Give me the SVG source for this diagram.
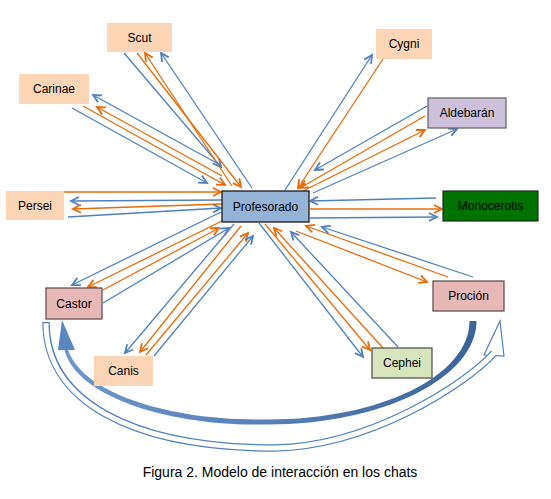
<svg xmlns="http://www.w3.org/2000/svg" width="551" height="499" viewBox="0 0 551 499">
<style>
.lbl{font-family:"Liberation Sans",Arial,sans-serif;font-size:12px;fill:#000;text-anchor:middle}
.cap{font-family:"Liberation Sans",Arial,sans-serif;font-size:14px;fill:#000;text-anchor:middle}
.peach{fill:#FBD5B5}
.b{stroke:#4F81BD;stroke-width:1.3;fill:none;marker-end:url(#hb)}
.o{stroke:#E46C0A;stroke-width:1.3;fill:none;marker-end:url(#ho)}
</style>
<defs>
<marker id="hb" markerUnits="userSpaceOnUse" markerWidth="12" markerHeight="10" viewBox="0 0 12 10" refX="9" refY="5" orient="auto"><path d="M1,1 L9,5 L1,9" fill="none" stroke="#4F81BD" stroke-width="1.8"/></marker>
<marker id="ho" markerUnits="userSpaceOnUse" markerWidth="12" markerHeight="10" viewBox="0 0 12 10" refX="9" refY="5" orient="auto"><path d="M1,1 L9,5 L1,9" fill="none" stroke="#E46C0A" stroke-width="1.8"/></marker>
<linearGradient id="thick" gradientUnits="userSpaceOnUse" x1="60" y1="0" x2="480" y2="0">
<stop offset="0" stop-color="#6f97cb"/><stop offset="0.5" stop-color="#5680b8"/><stop offset="1" stop-color="#3a6398"/>
</linearGradient>
</defs>

<g id="connectors">
<!-- Scut -->
<line class="b" x1="124" y1="53" x2="221" y2="167"/>
<line class="o" x1="137" y1="53" x2="241" y2="187"/>
<line class="o" x1="232" y1="186" x2="145" y2="53"/>
<line class="b" x1="252" y1="188" x2="161" y2="53"/>
<!-- Carinae -->
<line class="b" x1="72" y1="108" x2="207" y2="183"/>
<line class="o" x1="83" y1="106" x2="225" y2="185"/>
<line class="o" x1="222" y1="176" x2="97" y2="107"/>
<line class="b" x1="222" y1="166" x2="93" y2="95"/>
<!-- Persei -->
<line class="o" x1="64" y1="192" x2="221" y2="192"/>
<line class="b" x1="222" y1="200" x2="71" y2="201"/>
<line class="o" x1="222" y1="204" x2="73" y2="209"/>
<line class="b" x1="68" y1="217" x2="221" y2="208"/>
<!-- Cygni -->
<line class="b" x1="285" y1="190" x2="372" y2="55"/>
<line class="o" x1="383" y1="59" x2="298" y2="188"/>
<!-- Aldebaran -->
<line class="b" x1="427" y1="106" x2="315" y2="170"/>
<line class="o" x1="425" y1="116" x2="300" y2="188"/>
<line class="o" x1="303" y1="191" x2="425" y2="130"/>
<line class="b" x1="313" y1="193" x2="457" y2="129"/>
<!-- Monocerotis -->
<line class="b" x1="436" y1="198" x2="310" y2="201"/>
<line class="o" x1="310" y1="209" x2="442" y2="209"/>
<line class="b" x1="310" y1="218" x2="437" y2="217"/>
<!-- Castor -->
<line class="b" x1="221" y1="212" x2="72" y2="285"/>
<line class="o" x1="222" y1="221" x2="88" y2="287"/>
<line class="o" x1="103" y1="290" x2="219" y2="228"/>
<line class="b" x1="103" y1="303" x2="229" y2="228"/>
<!-- Canis -->
<line class="b" x1="234" y1="224" x2="125" y2="353"/>
<line class="o" x1="241" y1="226" x2="140" y2="352"/>
<line class="o" x1="146" y1="355" x2="248" y2="233"/>
<line class="b" x1="154" y1="356" x2="253" y2="236"/>
<!-- Cephei -->
<line class="b" x1="259" y1="223" x2="363" y2="357"/>
<line class="o" x1="265" y1="224" x2="370" y2="350"/>
<line class="o" x1="383" y1="348" x2="274" y2="228"/>
<line class="b" x1="398" y1="347" x2="291" y2="232"/>
<!-- Procion -->
<line class="o" x1="296" y1="231" x2="427" y2="282"/>
<line class="o" x1="448" y1="277" x2="306" y2="226"/>
<line class="b" x1="473" y1="277" x2="322" y2="227"/>

<!-- hollow curved arrow -->
<polygon points="500,321 484,355 504,356" fill="#fff" stroke="#4F81BD" stroke-width="1.2" stroke-linejoin="miter"/>
<path d="M46,322 C46,400 130,448 275,448 C370,446 465,385 494,353" fill="none" stroke="#4F81BD" stroke-width="7.5"/>
<path d="M46,323.3 C46,400 130,448 275,448 C370,446 465,385 494,353 L497,349.8" fill="none" stroke="#fff" stroke-width="5"/>

<!-- thick shaded curved arrow (tapered) -->
<path d="M476.5,321 C476.5,378 382,424.5 268,424.5 C170,426.5 76,397 64.3,349.4 L67.7,348.6 C80.5,393 170,421.5 268,419.5 C380,419.5 469.5,376 469.5,321 Z" fill="url(#thick)"/>
<polygon points="62,320 58,350 75,350" fill="#5b87c0"/>
</g>

<g id="Profesorado"><rect x="222" y="191" width="87" height="31" fill="#95B3D7" stroke="#1a1a1a" stroke-width="1.3"/><text class="lbl" x="265.5" y="211">Profesorado</text></g>
<g id="Scut"><rect class="peach" x="107" y="23" width="65" height="29"/><text class="lbl" x="139.5" y="42">Scut</text></g>
<g id="Carinae"><rect class="peach" x="19" y="74" width="70" height="30"/><text class="lbl" x="54" y="93">Carinae</text></g>
<g id="Persei"><rect class="peach" x="6" y="191" width="58" height="29"/><text class="lbl" x="35" y="210">Persei</text></g>
<g id="Cygni"><rect class="peach" x="376" y="29" width="56" height="30"/><text class="lbl" x="404" y="48">Cygni</text></g>
<g id="Aldebaran"><rect x="428" y="98" width="78" height="30" fill="#CCC0DA" stroke="#5f5f5f" stroke-width="1.2"/><text class="lbl" x="467" y="117">Aldebarán</text></g>
<g id="Monocerotis"><rect x="443" y="191" width="95" height="30" fill="#007200" stroke="#1f2f1f" stroke-width="1.2"/><text class="lbl" x="490.5" y="210">Monocerotis</text></g>
<g id="Castor"><rect x="46" y="288" width="56" height="31" fill="#E6B9B8" stroke="#5a4848" stroke-width="1.2"/><text class="lbl" x="74" y="308">Castor</text></g>
<g id="Canis"><rect class="peach" x="94" y="356" width="59" height="30"/><text class="lbl" x="123.5" y="375">Canis</text></g>
<g id="Procion"><rect x="433" y="281" width="71" height="30" fill="#E6B9B8" stroke="#5a4848" stroke-width="1.2"/><text class="lbl" x="468.5" y="300">Proción</text></g>
<g id="Cephei"><rect x="372" y="348" width="60" height="30" fill="#D7E4BD" stroke="#4a4a4a" stroke-width="1.2"/><text class="lbl" x="402" y="367">Cephei</text></g>

<text class="cap" x="280" y="477">Figura 2. Modelo de interacción en los chats</text>
</svg>
